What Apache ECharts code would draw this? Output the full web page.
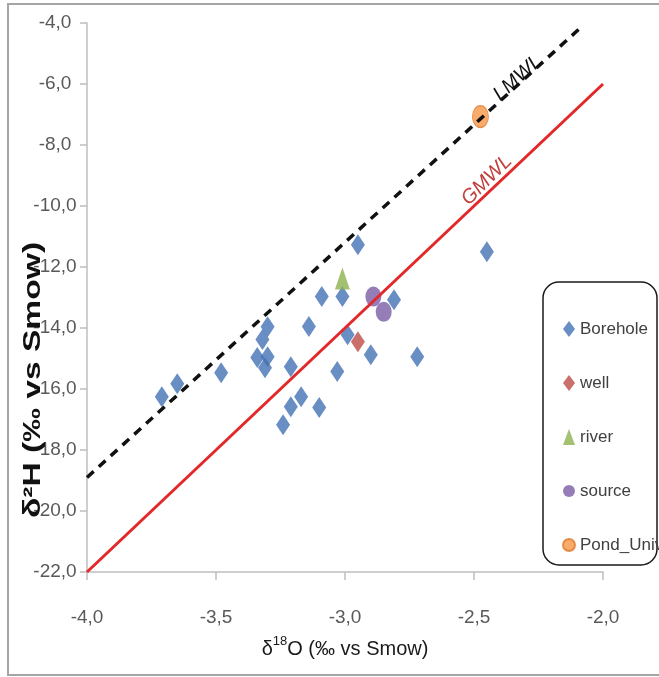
<!DOCTYPE html>
<html>
<head>
<meta charset="utf-8">
<script src="https://cdn.jsdelivr.net/npm/echarts@6/dist/echarts.min.js"></script>
<style>
html,body{margin:0;padding:0;background:#fff;}
#chart{width:659px;height:677px;}
</style>
</head>
<body>
<div id="chart"></div>
<script>
// ---- data ----
const boreholeX = [-3.71, -3.65, -3.48, -3.30, -3.32, -3.34, -3.30, -3.31, -3.21, -3.14, -3.09, -3.17, -3.21, -3.24, -3.10, -3.03, -3.01, -2.95, -2.81, -2.99, -2.90, -2.72, -2.45];
const boreholeY = [-16.25, -15.83, -15.47, -13.96, -14.38, -14.97, -14.94, -15.30, -15.27, -13.95, -12.97, -16.25, -16.58, -17.17, -16.61, -15.43, -12.97, -11.27, -13.07, -14.22, -14.88, -14.94, -11.50];
const wellX = [-2.95];
const wellY = [-14.45];
const riverX = [-3.01];
const riverY = [-12.38];
const sourceX = [-2.89, -2.85];
const sourceY = [-12.97, -13.47];
const pondX = [-2.475];
const pondY = [-7.07];
const lmwlX = [-4.0, -2.08];
const lmwlY = [-18.9, -4.1];
const gmwlX = [-4.0, -2.0];
const gmwlY = [-22.0, -6.0];
const legendNames = ['Borehole', 'well', 'river', 'source', 'Pond_Univ'];
const xTickLabels = ['-4,0', '-3,5', '-3,0', '-2,5', '-2,0'];
const yTickLabels = ['-22,0', '-20,0', '-18,0', '-16,0', '-14,0', '-12,0', '-10,0', '-8,0', '-6,0', '-4,0'];

const zip = (xs, ys) => xs.map((x, i) => [x, ys[i]]);
const fmt = v => v.toFixed(1).replace('.', ',');
const FONT = '"Liberation Sans", Arial, sans-serif';
const ellipse = 'path://M0,-1A1,1 0 1,1 0,1A1,1 0 1,1 0,-1Z';

const chart = echarts.init(document.getElementById('chart'), null, {renderer: 'canvas'});
const option = {
  animation: false,
  backgroundColor: '#ffffff',
  grid: {left: 87, right: 56, top: 23, bottom: 105},
  xAxis: {
    type: 'value', min: -4, max: -2, interval: 0.5,
    axisLine: {show: true, onZero: false, lineStyle: {color: '#BFBFBF', width: 1.5}},
    axisTick: {show: true, length: 8, lineStyle: {color: '#BFBFBF', width: 1.5}},
    splitLine: {show: false},
    axisLabel: {margin: 36, fontSize: 19, fontFamily: FONT, color: '#595959',
      formatter: v => { const s = fmt(v); return xTickLabels.includes(s) ? s : ''; }},
    name: '{a|δ}{s|18}{a|O (‰ vs Smow)}',
    nameLocation: 'middle', nameGap: 63,
    nameTextStyle: {
      rich: {
        a: {fontSize: 20, fontFamily: FONT, color: '#1a1a1a', lineHeight: 24, verticalAlign: 'bottom'},
        s: {fontSize: 13, fontFamily: FONT, color: '#1a1a1a', lineHeight: 24, verticalAlign: 'top'}
      }
    }
  },
  yAxis: {
    type: 'value', min: -22, max: -4, interval: 2,
    axisLine: {show: true, onZero: false, lineStyle: {color: '#BFBFBF', width: 1.5}},
    axisTick: {show: true, length: 7, lineStyle: {color: '#BFBFBF', width: 1.5}},
    splitLine: {show: false},
    axisLabel: {margin: 32, align: 'center', fontSize: 19, fontFamily: FONT, color: '#595959',
      formatter: v => { const s = fmt(v); return yTickLabels.includes(s) ? s : ''; }}
  },
  legend: {
    orient: 'vertical', left: 557, top: 314,
    itemWidth: 12, itemHeight: 16, itemGap: 34,
    data: legendNames,
    textStyle: {fontSize: 17, fontFamily: FONT, color: '#404040', lineHeight: 20}
  },
  graphic: [
    {type: 'rect', z: 0, silent: true,
      shape: {x: 8, y: 4, width: 662, height: 671},
      style: {fill: 'transparent', stroke: '#A5A5A5', lineWidth: 2}},
    {type: 'rect', z: 1, silent: true,
      shape: {x: 543, y: 282, width: 114, height: 283, r: 16},
      style: {fill: '#ffffff', stroke: '#1a1a1a', lineWidth: 1.5}},
    {type: 'text', z: 10, silent: true, x: 33, y: 380, rotation: Math.PI / 2, scaleX: 1.4, scaleY: 1,
      style: {text: 'δ²H (‰ vs Smow)', font: 'bold 24px "Liberation Sans", "DejaVu Sans", sans-serif',
        fill: '#111111', align: 'center', verticalAlign: 'middle', textAlign: 'center', textVerticalAlign: 'middle'}}
  ],
  series: [
    {name: 'Borehole', type: 'scatter', symbol: 'diamond', symbolSize: [14, 21], z: 2,
      itemStyle: {color: '#4472B4'}, data: zip(boreholeX, boreholeY)},
    {name: 'well', type: 'scatter', symbol: 'diamond', symbolSize: [14, 21], z: 2,
      itemStyle: {color: '#BE4B48'}, data: zip(wellX, wellY)},
    {name: 'river', type: 'scatter', symbol: 'triangle', symbolSize: [15, 22], z: 2,
      itemStyle: {color: '#8DB24F'}, data: zip(riverX, riverY)},
    {name: 'source', type: 'scatter', symbol: ellipse, symbolSize: [16, 20], z: 2,
      itemStyle: {color: '#7B5CA6'}, data: zip(sourceX, sourceY)},
    {name: 'Pond_Univ', type: 'scatter', symbol: ellipse, symbolSize: [16, 22], z: 2,
      itemStyle: {color: '#F79646', borderColor: '#E0782C', borderWidth: 1}, data: zip(pondX, pondY)},
    {name: 'LMWL', type: 'line', showSymbol: false, symbol: 'none', z: 5, silent: true,
      lineStyle: {color: '#111111', width: 3.5, type: [9, 7]},
      data: zip(lmwlX, lmwlY),
      markPoint: {symbol: 'circle', symbolSize: 0, silent: true,
        data: [{coord: [-2.33, -5.8], value: 'LMWL'}],
        label: {show: true, position: 'inside', formatter: 'LMWL', rotate: 42, fontSize: 20,
          fontStyle: 'italic', fontFamily: FONT, color: '#111111'}}},
    {name: 'GMWL', type: 'line', showSymbol: false, symbol: 'none', z: 5, silent: true,
      lineStyle: {color: '#E3282A', width: 3},
      data: zip(gmwlX, gmwlY),
      markPoint: {symbol: 'circle', symbolSize: 0, silent: true,
        data: [{coord: [-2.45, -9.15], value: 'GMWL'}],
        label: {show: true, position: 'inside', formatter: 'GMWL', rotate: 45, fontSize: 20,
          fontStyle: 'italic', fontFamily: FONT, color: '#C0403E'}}}
  ]
};
chart.setOption(option);
</script>
</body>
</html>
